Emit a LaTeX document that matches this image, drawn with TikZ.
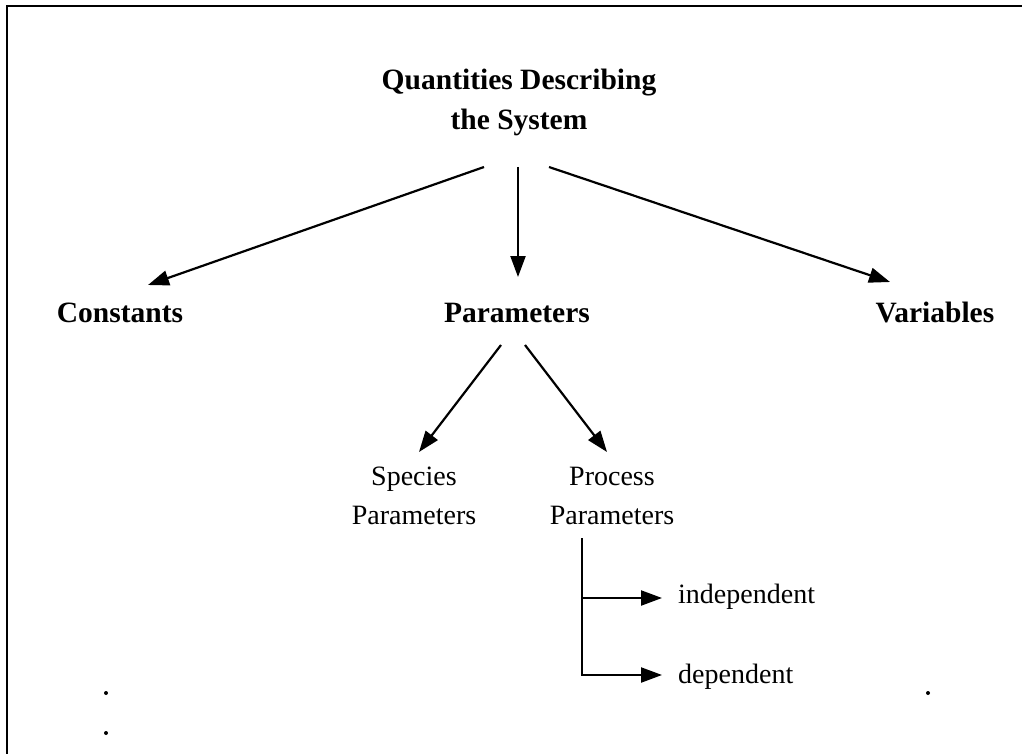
\documentclass[tikz,border=0pt]{standalone}
\usepackage{fontspec}
\setmainfont{Liberation Serif}
\usetikzlibrary{arrows.meta,calc}
\begin{document}
\begin{tikzpicture}[x=1pt,y=-1pt,
  lbl/.style={inner sep=0pt, font=\fontsize{28}{39}\selectfont, align=center},
  blbl/.style={inner sep=0pt, font=\fontsize{29.5}{40}\selectfont\bfseries, align=center},
  arr/.style={line width=2.2pt, -{Triangle[length=21pt,width=15pt]}},
  ln/.style={line width=2.2pt}]
\useasboundingbox (0,0) rectangle (1022,754);
\draw[line width=2.8pt] (1022,6) -- (7,6) -- (7,754);
% nodes (multi-line nodes: base = last line)
\node[blbl, anchor=base] (title) at (519,130) {Quantities Describing\\the System};
\node[blbl, anchor=base] (const) at (120,322) {Constants};
\node[blbl, anchor=base] (param) at (517,322) {Parameters};
\node[blbl, anchor=base] (var) at (935,322) {Variables};
\node[lbl, anchor=base] (spec) at (414,524) {Species\\Parameters};
\node[lbl, anchor=base] (proc) at (612,524) {Process\\Parameters};
\node[lbl, anchor=base west] (indep) at (678,603) {independent};
\node[lbl, anchor=base west] (dep) at (678,683) {dependent};
% connectors
\draw[arr] ($(title.base)+(-35,37)$) -- ($(const.base)+(28,-37)$);
\draw[arr] ($(title.base)+(-1,37)$) -- ($(param.base)+(1,-45)$);
\draw[arr] ($(title.base)+(30,37)$) -- ($(var.base)+(-45,-40)$);
\draw[arr] ($(param.base)+(-16,23)$) -- ($(spec.base)+(5,-72)$);
\draw[arr] ($(param.base)+(8,23)$) -- ($(proc.base)+(-5,-72)$);
\coordinate (ptop) at ($(proc.base)+(-30,14)$);
\draw[arr] (ptop) |- ($(dep.base west)+(-16,-8)$);
\draw[arr] (ptop |- indep.base west) ++(0,-5) -- ($(indep.base west)+(-16,-5)$);
% specks
\fill (106,693) circle[radius=2pt];
\fill (106,733) circle[radius=2pt];
\fill (928,693) circle[radius=2pt];
\end{tikzpicture}
\end{document}
